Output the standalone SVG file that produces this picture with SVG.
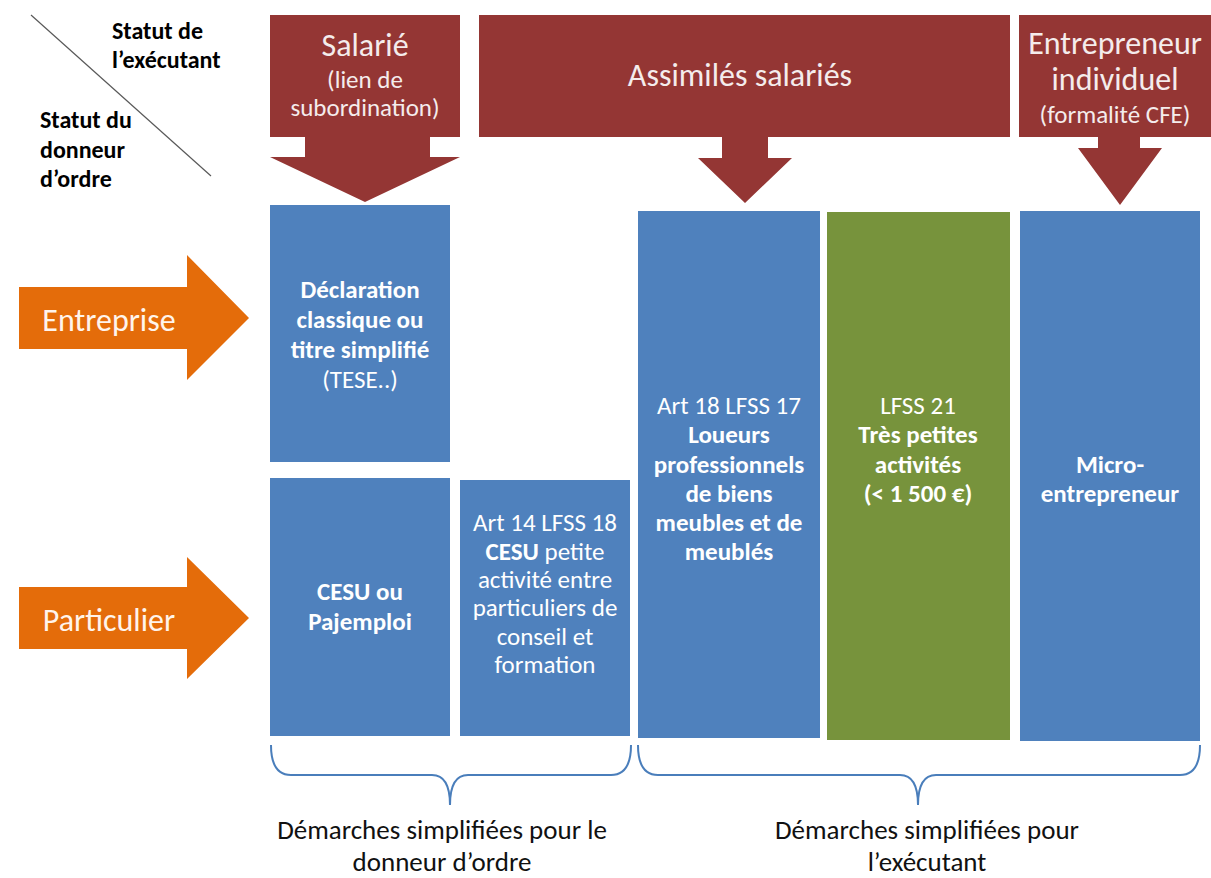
<svg xmlns="http://www.w3.org/2000/svg" width="1211" height="878" viewBox="0 0 1211 878">
<style>
text{font-family:Carlito,Lato,"Liberation Sans",sans-serif;text-anchor:middle}
.hdr{fill:#943634}
.blue{fill:#4F81BD}
.green{fill:#77933C}
.orange{fill:#E46C0A}
.ht{fill:#F4ECEC;font-size:32px}
.hs{fill:#F4ECEC;font-size:25px}
.bt{fill:#FFFFFF;font-size:25px}
.b{font-weight:bold}
.lab{fill:#000;font-size:24px;font-weight:bold;text-anchor:start}
.arr{fill:#FFF4EC;font-size:32px}
.foot{fill:#111;font-size:27px}
.brace{fill:none;stroke:#4A7EBB;stroke-width:2}
</style>
<rect width="1211" height="878" fill="#FFFFFF"/>
<g id="corner">
<line x1="31" y1="15" x2="211" y2="176" stroke="#595959" stroke-width="1.2"/>
<text class="lab" x="112" y="39">Statut de</text>
<text class="lab" x="112" y="68">l’exécutant</text>
<text class="lab" x="40" y="128">Statut du</text>
<text class="lab" x="40" y="158">donneur</text>
<text class="lab" x="40" y="187">d’ordre</text>
</g>
<g id="salarie">
<rect class="hdr" x="270" y="15" width="190" height="122"/>
<polygon class="hdr" points="305,136 430,136 430,157 460,157 365,202 270,157 305,157"/>
<text class="ht" x="365" y="56">Salarié</text>
<text class="hs" x="365" y="88">(lien de</text>
<text class="hs" x="365" y="116">subordination)</text>
</g>
<g id="assimiles">
<rect class="hdr" x="479" y="15" width="531" height="122"/>
<polygon class="hdr" points="722,136 768,136 768,158 792,158 745,203 698,158 722,158"/>
<text class="ht" x="740" y="86">Assimilés salariés</text>
</g>
<g id="entrepreneur">
<rect class="hdr" x="1019" y="15" width="192" height="122"/>
<polygon class="hdr" points="1098,136 1140,136 1140,148 1162,148 1120,205 1078,148 1098,148"/>
<text class="ht" x="1115" y="54">Entrepreneur</text>
<text class="ht" x="1115" y="90">individuel</text>
<text class="hs" x="1115" y="123">(formalité CFE)</text>
</g>
<g id="entreprise">
<polygon class="orange" points="19,287 187,287 187,255 249,318 187,380 187,349 19,349"/>
<text class="arr" x="109" y="331">Entreprise</text>
</g>
<g id="particulier">
<polygon class="orange" points="19,587 187,587 187,557 249,618 187,679 187,649 19,649"/>
<text class="arr" x="109" y="631">Particulier</text>
</g>
<g id="declaration">
<rect class="blue" x="270" y="205" width="180" height="257"/>
<text class="bt b" x="360" y="298">Déclaration</text>
<text class="bt b" x="360" y="328">classique ou</text>
<text class="bt b" x="360" y="358">titre simplifié</text>
<text class="bt" x="360" y="388">(TESE..)</text>
</g>
<g id="cesu">
<rect class="blue" x="270" y="478" width="180" height="258"/>
<text class="bt b" x="360" y="600">CESU ou</text>
<text class="bt b" x="360" y="630">Pajemploi</text>
</g>
<g id="art14">
<rect class="blue" x="460" y="480" width="170" height="256"/>
<text class="bt" x="545" y="531">Art 14 LFSS 18</text>
<text class="bt" x="545" y="560"><tspan class="b">CESU</tspan> petite</text>
<text class="bt" x="545" y="588">activité entre</text>
<text class="bt" x="545" y="616">particuliers de</text>
<text class="bt" x="545" y="645">conseil et</text>
<text class="bt" x="545" y="673">formation</text>
</g>
<g id="art18">
<rect class="blue" x="638" y="211" width="182" height="527"/>
<text class="bt" x="729" y="414">Art 18 LFSS 17</text>
<text class="bt b" x="729" y="443">Loueurs</text>
<text class="bt b" x="729" y="473">professionnels</text>
<text class="bt b" x="729" y="502">de biens</text>
<text class="bt b" x="729" y="531">meubles et de</text>
<text class="bt b" x="729" y="560">meublés</text>
</g>
<g id="lfss21">
<rect class="green" x="827" y="212" width="183" height="528"/>
<text class="bt" x="918" y="414">LFSS 21</text>
<text class="bt b" x="918" y="443">Très petites</text>
<text class="bt b" x="918" y="473">activités</text>
<text class="bt b" x="918" y="502">(&lt; 1 500 €)</text>
</g>
<g id="micro">
<rect class="blue" x="1020" y="211" width="180" height="530"/>
<text class="bt b" x="1110" y="473">Micro-</text>
<text class="bt b" x="1110" y="502">entrepreneur</text>
</g>
<g id="connectors">
<path class="brace" d="M271,745 Q271,775 291,775 H432 Q450,775 450,805 Q450,775 468,775 H611 Q631,775 631,745"/>
<path class="brace" d="M638,745 Q638,775 658,775 H900 Q918,775 918,805 Q918,775 936,775 H1180 Q1200,775 1200,745"/>
</g>
<g id="footer">
<text class="foot" x="442" y="839">Démarches simplifiées pour le</text>
<text class="foot" x="442" y="871">donneur d’ordre</text>
<text class="foot" x="927" y="839">Démarches simplifiées pour</text>
<text class="foot" x="927" y="871">l’exécutant</text>
</g>
</svg>
